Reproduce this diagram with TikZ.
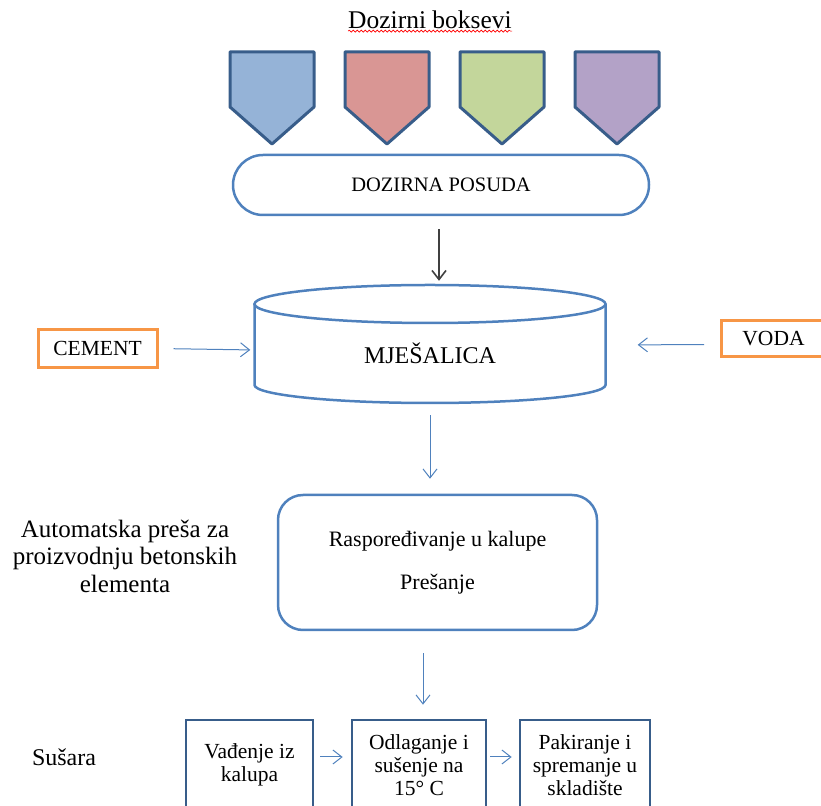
\documentclass[tikz,border=0pt]{standalone}
\usepackage{fontspec}
\setmainfont{Liberation Serif}
\usetikzlibrary{arrows.meta,calc,positioning,decorations.pathmorphing}
\definecolor{boxline}{HTML}{385D8A}
\definecolor{flowblue}{HTML}{4F81BD}
\definecolor{inorange}{HTML}{F79646}
\definecolor{binblue}{HTML}{95B3D7}
\definecolor{binred}{HTML}{D99694}
\definecolor{bingreen}{HTML}{C3D69B}
\definecolor{binpurple}{HTML}{B3A2C7}
\tikzset{
  txt/.style={font=\fontsize{21.5}{23}\selectfont, inner sep=0pt},
  flow/.style={->, flowblue, line width=1pt},
  inbox/.style={draw=inorange, line width=3pt, txt, minimum height=38pt},
  stagebox/.style={draw=boxline, line width=2.6pt, txt, align=center, minimum height=90pt}
}

\begin{document}
\begin{tikzpicture}[x=1pt,y=1pt,>={Straight Barb[length=9pt,width=14pt]}]
\useasboundingbox (0,0) rectangle (821,805);

% Dozirni boksevi
\node (title) at (430,785) [font=\fontsize{25.5}{28}\selectfont, inner sep=0pt]{Dozirni boksevi};
\draw[red, line width=0.6pt, decorate,
  decoration={snake, amplitude=1pt, segment length=4pt}]
  ($(title.south west)+(0,-2)$) -- ($(title.south east)+(0,-2)$);
\foreach \C/\F in {272/binblue,387/binred,502/bingreen,617/binpurple}
\draw[boxline, line width=3pt, fill=\F, line join=round]
  (\C-42,753) -- (\C+42,753) -- (\C+42,698) -- (\C,661) -- (\C-42,698) -- cycle;

% Dozirna posuda
\node (dose) at (441,620) [draw=flowblue, line width=2.5pt, rounded corners=30pt,
  minimum width=416pt, minimum height=60pt, txt, font=\fontsize{20.5}{23}\selectfont]{DOZIRNA POSUDA};

% Mjesalica (cylinder)
\node (mixer) at (430,455) [minimum width=351pt, minimum height=130pt, inner sep=0pt]{};
\node at (430,452) [font=\fontsize{24}{28}\selectfont, inner sep=0pt]{MJEŠALICA};
\draw[flowblue, line width=2.5pt] (430,501) ellipse [x radius=175.5, y radius=19];
\draw[flowblue, line width=2.5pt] (254.5,501) -- (254.5,420)
  arc [start angle=180, end angle=360, x radius=175.5, y radius=18] -- (605.5,501);

\draw[->, black!75, line width=1.6pt, shorten <=13pt, shorten >=4pt] (dose.south -| 439,0) -- (mixer.north -| 439,0);

% Ulazi
\node (cement) at (97.5,456.5) [inbox, minimum width=119pt]{CEMENT};
\node (water) at (773.5,466.5) [inbox, minimum width=104pt, minimum height=36pt]{VODA};
\draw[flow, shorten <=15pt, shorten >=4pt] (cement.east) -- (mixer.west);
\draw[flow, shorten <=16pt, shorten >=32pt] ([yshift=-6pt]water.west) -- ([yshift=5pt]mixer.east);

% Presa
\node (press) at (437.5,242.5) [draw=flowblue, line width=2.5pt, rounded corners=25pt,
  minimum width=319pt, minimum height=135pt, txt, font=\fontsize{22}{24}\selectfont, align=center]
  {Raspoređivanje u kalupe\\[19pt]Prešanje};
\node (presslbl) at (125,249) [font=\fontsize{25}{27.5}\selectfont, align=center, inner sep=0pt]
  {Automatska preša za\\proizvodnju betonskih\\elementa};
\draw[flow, shorten >=15pt] (mixer.south) -- (press.north -| mixer.south);

% Susara
\node (unmould) at (249.5,40) [stagebox, minimum width=127pt]{Vađenje iz\\kalupa};
\node (dry) at (419,40) [stagebox, minimum width=134pt]{Odlaganje i\\sušenje na\\15° C};
\node (store) at (585,40) [stagebox, minimum width=130pt]{Pakiranje i\\spremanje u\\skladište};
\node (dryerlbl) at (64,48) [txt, font=\fontsize{24}{26}\selectfont]{Sušara};
\draw[flow, shorten <=22pt, shorten >=14pt] (press.south -| 423,0) -- (dry.north -| 423,0);
\draw[flow, shorten <=6pt, shorten >=8pt] ([yshift=8pt]unmould.east) -- ([yshift=8pt]dry.west);
\draw[flow, shorten <=3pt, shorten >=7pt] ([yshift=8pt]dry.east) -- ([yshift=8pt]store.west);
\end{tikzpicture}
\end{document}
